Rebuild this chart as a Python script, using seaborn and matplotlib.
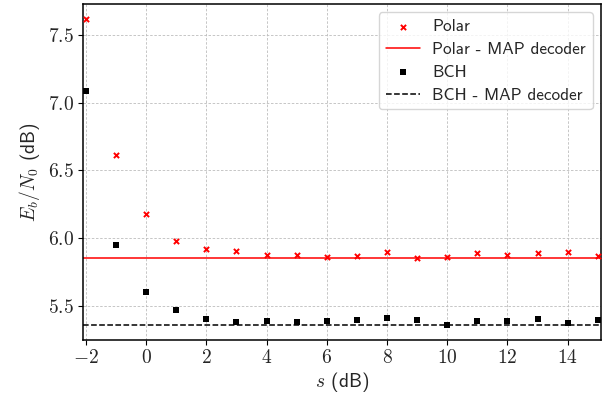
import matplotlib
matplotlib.use("Agg")
import matplotlib.pyplot as plt
from matplotlib.ticker import FuncFormatter, MultipleLocator
import seaborn as sns
import pandas as pd

# Scaling factor s (dB) and required Eb/N0 (dB) for each code
s_db = [-2, -1, 0, 1, 2, 3, 4, 5, 6, 7, 8, 9, 10, 11, 12, 13, 14, 15]
polar_ebn0 = [7.615, 6.613, 6.179, 5.982, 5.919, 5.904, 5.875, 5.875, 5.860,
              5.868, 5.902, 5.858, 5.860, 5.889, 5.875, 5.892, 5.902, 5.870]
bch_ebn0 = [7.088, 5.951, 5.605, 5.470, 5.407, 5.382, 5.392, 5.385, 5.387,
            5.401, 5.409, 5.394, 5.360, 5.390, 5.392, 5.407, 5.372, 5.399]
polar_map = 5.855
bch_map = 5.360

df = pd.DataFrame({"s": s_db, "polar": polar_ebn0, "bch": bch_ebn0})

sns.set_style("whitegrid", {
    "grid.color": "#bdbdbd",
    "axes.edgecolor": "black",
    "xtick.bottom": True,
    "ytick.left": True,
})
plt.rcParams["font.family"] = ["cmss10", "DejaVu Sans"]
plt.rcParams["mathtext.fontset"] = "cm"
plt.rcParams["axes.unicode_minus"] = False

fig = plt.figure(figsize=(6.05, 4.0), dpi=100)
ax = fig.add_axes([0.137, 0.15, 0.857, 0.841])

sns.scatterplot(data=df, x="s", y="polar", ax=ax, marker="x", color="red",
                s=14, linewidth=1.4, label="Polar", zorder=3)
ax.axhline(polar_map, color="red", linewidth=1.1, label="Polar - MAP decoder")
sns.scatterplot(data=df, x="s", y="bch", ax=ax, marker="s", color="black",
                s=22, linewidth=0, label="BCH", zorder=3)
ax.axhline(bch_map, color="black", linewidth=1.1, linestyle="--",
           label="BCH - MAP decoder")

ax.set_xlim(-2.1, 15.12)
ax.set_ylim(5.25, 7.73)
ax.xaxis.set_major_locator(MultipleLocator(2))
ax.yaxis.set_major_locator(MultipleLocator(0.5))
ax.xaxis.set_major_formatter(FuncFormatter(lambda v, p: f"${v:g}$"))
ax.yaxis.set_major_formatter(FuncFormatter(lambda v, p: f"${v:.1f}$"))
ax.tick_params(axis="both", labelsize=14, length=3.5, width=0.8,
               color="black", pad=3)
for sp in ax.spines.values():
    sp.set_linewidth(1.1)
    sp.set_color("black")
ax.grid(True, linewidth=0.6, linestyle=(0, (3, 2)))

ax.set_xlabel("$s$ (dB)", fontsize=14, labelpad=2)
ax.set_ylabel("$E_b/N_0$ (dB)", fontsize=14, labelpad=4)

leg = ax.legend(loc="upper right", fontsize=12.4, frameon=True, fancybox=True,
                framealpha=0.8, edgecolor="#cccccc", borderaxespad=0.5,
                labelspacing=0.45, handletextpad=0.7)

fig.savefig("out.png", dpi=100)
